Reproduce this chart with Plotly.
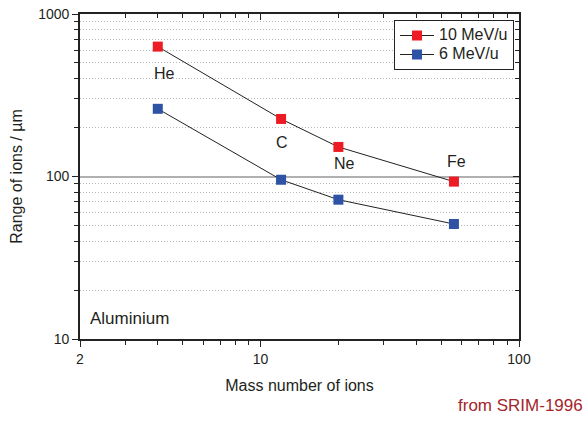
import math
import plotly.graph_objects as go

# ---- data ----
ions = ["He", "C", "Ne", "Fe"]
mass_number = [4, 12, 20, 56]
range_10mev = [630, 226, 152, 93]
range_6mev = [261, 95.5, 72, 51]
series_names = ["10 MeV/u", "6 MeV/u"]
x_tickvals = [2, 10, 100]
x_ticktext = ["2", "10", "100"]
y_tickvals = [10, 100, 1000]
y_ticktext = ["10", "100", "1000"]
x_minor = [3, 4, 5, 6, 7, 8, 9, 20, 30, 40, 50, 60, 70, 80, 90]
y_minor = [20, 30, 40, 50, 60, 70, 80, 90, 200, 300, 400, 500, 600, 700, 800, 900]

RED = "#ed1c24"
BLUE = "#2e52a4"
TXT = "#231f20"
FONT = "Liberation Sans, Arial, sans-serif"

def legend_label(s):
    return '<span style="font-size:16px">' + s + "</span>"

fig = go.Figure()
fig.add_trace(go.Scatter(
    x=mass_number, y=range_10mev, name=legend_label(series_names[0]), mode="lines+markers",
    line=dict(color="#222222", width=1),
    marker=dict(symbol="square", size=10, color=RED),
))
fig.add_trace(go.Scatter(
    x=mass_number, y=range_6mev, name=legend_label(series_names[1]), mode="lines+markers",
    line=dict(color="#222222", width=1),
    marker=dict(symbol="square", size=10, color=BLUE),
))
# empty trace to activate the mirrored (inward-tick) axes
fig.add_trace(go.Scatter(x=[], y=[], xaxis="x2", yaxis="y2", showlegend=False, hoverinfo="skip"))

xr = [math.log10(2), 2]
yr = [1, 3]
TICK = "#222"

fig.update_layout(
    width=588, height=421,
    margin=dict(l=80, r=69, t=14, b=82),
    paper_bgcolor="white", plot_bgcolor="white",
    font=dict(family=FONT, color=TXT, size=14),
    xaxis=dict(
        type="log", range=xr, automargin=False,
        tickvals=x_tickvals, ticktext=x_ticktext,
        ticks="outside", ticklen=6, tickwidth=1.3, tickcolor=TICK,
        minor=dict(tickvals=x_minor, ticks="outside", ticklen=4, tickwidth=1.3, tickcolor=TICK, showgrid=False),
        showgrid=False, zeroline=False,
        showline=True, linecolor=TICK, linewidth=1.8, mirror=True,
        tickfont=dict(size=14),
        title=dict(text="Mass number of ions", font=dict(size=16), standoff=14),
    ),
    xaxis2=dict(
        type="log", range=xr, overlaying="x", side="top", automargin=False,
        tickvals=x_tickvals, ticks="inside", ticklen=6, tickwidth=1.3, tickcolor=TICK,
        minor=dict(tickvals=x_minor, ticks="inside", ticklen=4, tickwidth=1.3, tickcolor=TICK, showgrid=False),
        showticklabels=False, showgrid=False, zeroline=False, showline=False,
    ),
    yaxis=dict(
        type="log", range=yr, automargin=False,
        tickvals=y_tickvals, ticktext=y_ticktext,
        ticks="outside", ticklen=6, tickwidth=1.3, tickcolor=TICK,
        minor=dict(tickvals=y_minor, ticks="outside", ticklen=4, tickwidth=1.3, tickcolor=TICK,
                   showgrid=True, gridcolor="#b8b8b8", griddash="1px,2px", gridwidth=1),
        showgrid=True, gridcolor="#b0b0b0", gridwidth=1.6, zeroline=False,
        showline=True, linecolor=TICK, linewidth=1.8, mirror=True,
        tickfont=dict(size=14),
        title=dict(text="Range of ions / µm", font=dict(size=16), standoff=12),
    ),
    yaxis2=dict(
        type="log", range=yr, overlaying="y", side="right", automargin=False,
        tickvals=y_tickvals, ticks="inside", ticklen=6, tickwidth=1.3, tickcolor=TICK,
        minor=dict(tickvals=y_minor, ticks="inside", ticklen=4, tickwidth=1.3, tickcolor=TICK, showgrid=False),
        showticklabels=False, showgrid=False, zeroline=False, showline=False,
    ),
    legend=dict(
        x=(394 - 80) / 439, y=(339 - 20) / 325, xanchor="left", yanchor="top",
        bgcolor="white", bordercolor="#222", borderwidth=1,
        font=dict(size=12), itemwidth=34, tracegroupgap=0,
    ),
    showlegend=True,
)

# ion labels placed relative to the 10 MeV/u points
label_shift = {"He": (7, -27), "C": (1, -24), "Ne": (6, -17), "Fe": (3, 20)}
for ion, a, r in zip(ions, mass_number, range_10mev):
    dx, dy = label_shift[ion]
    fig.add_annotation(
        x=math.log10(a), y=math.log10(r), xref="x", yref="y",
        text=ion, showarrow=False, xshift=dx, yshift=dy,
        font=dict(size=16, color=TXT),
    )

fig.add_annotation(x=0.018, y=0.063, xref="paper", yref="paper", xanchor="left", yanchor="middle",
                   text="Aluminium", showarrow=False, font=dict(size=17, color=TXT))
fig.add_annotation(x=1.0 + 66 / 439, y=-(405 - 339) / 325, xref="paper", yref="paper",
                   xanchor="right", yanchor="middle", text="from SRIM-1996", showarrow=False,
                   font=dict(size=17, color="#a4252a"))

fig.write_html("out.html")
